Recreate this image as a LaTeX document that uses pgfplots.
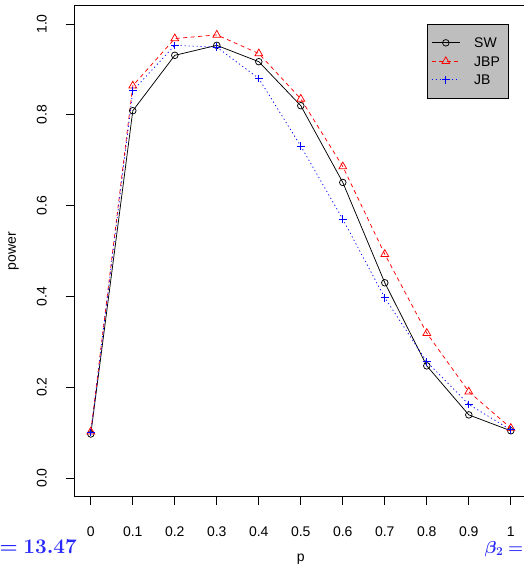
\documentclass[border=0pt]{standalone}
\usepackage[no-math]{fontspec}
\setmainfont{Liberation Sans}
\usepackage{bm}
\usepackage{pgfplots}
\pgfplotsset{compat=1.18}
\definecolor{rgray}{RGB}{190,190,190}
\definecolor{btxt}{RGB}{40,40,250}
\newcommand{\fs}{\fontsize{14}{16.8}\selectfont}
\begin{document}
\begin{tikzpicture}
\begin{axis}[
  at={(74pt,-5.84pt)}, anchor=north west,
  scale only axis, width=453.6pt, height=490.3pt,
  xmin=-0.04, xmax=1.04, ymin=-0.04, ymax=1.04,
  axis line style={black, line width=0.8pt},
  tick style={black, line width=0.8pt},
  tick align=outside, tick pos=left, major tick length=8.5pt,
  xtick={0,0.1,0.2,0.3,0.4,0.5,0.6,0.7,0.8,0.9,1},
  xticklabels={0,0.1,0.2,0.3,0.4,0.5,0.6,0.7,0.8,0.9,1},
  ytick={0,0.2,0.4,0.6,0.8,1},
  yticklabels={0.0,0.2,0.4,0.6,0.8,1.0},
  /pgf/number format/assume math mode=true,
  xticklabel style={font=\fs, anchor=base, inner sep=0pt, yshift=-32pt},
  yticklabel style={font=\fs, inner sep=0pt, xshift=-19pt, rotate=90, anchor=base},
  xlabel={p}, ylabel={power},
  xlabel style={font=\fs, at={(axis description cs:0.5,-0.1335)}, anchor=base, inner sep=0pt},
  ylabel style={font=\fs, at={(axis description cs:-0.1283,0.5)}, anchor=base, inner sep=0pt},
  legend style={at={(rel axis cs:0.7783,0.9626)}, anchor=north west,
    fill=rgray, draw=black, line width=0.8pt, font=\fs,
    inner xsep=4pt, inner ysep=9pt, row sep=0pt, column sep=14pt,
    nodes={inner sep=0pt, text height=14.25pt, text depth=4.25pt, anchor=base west}},
  legend cell align=left,
  legend image code/.code={\draw[mark repeat=2, mark phase=2, #1] plot coordinates {(0pt,5pt) (14pt,5pt) (28pt,5pt)};},
]
\addplot[black, line width=0.75pt, mark=o, mark size=3.3pt, mark options={solid}]
 coordinates {(0,0.097) (0.1,0.809) (0.2,0.931) (0.3,0.953) (0.4,0.917) (0.5,0.820) (0.6,0.651) (0.7,0.430) (0.8,0.247) (0.9,0.139) (1,0.104)};
\addlegendentry{\makebox[30pt][l]{SW}}
\addplot[red, line width=0.75pt, dash pattern=on 4pt off 3.5pt, mark=triangle, mark size=4.5pt, mark options={solid}]
 coordinates {(0,0.102) (0.1,0.864) (0.2,0.968) (0.3,0.976) (0.4,0.935) (0.5,0.835) (0.6,0.686) (0.7,0.493) (0.8,0.319) (0.9,0.190) (1,0.110)};
\addlegendentry{\makebox[30pt][l]{JBP}}
\addplot[blue, line width=0.75pt, dash pattern=on 1.2pt off 2.8pt, mark=+, mark size=3.8pt, mark options={solid}]
 coordinates {(0,0.100) (0.1,0.853) (0.2,0.953) (0.3,0.949) (0.4,0.880) (0.5,0.731) (0.6,0.570) (0.7,0.397) (0.8,0.256) (0.9,0.162) (1,0.106)};
\addlegendentry{\makebox[30pt][l]{JB}}
\end{axis}
\node[anchor=base east, inner sep=0pt, text=btxt, font=\fontsize{19.2}{22}\selectfont] at (77pt,-553.3pt) {$\bm{{}= 13.47}$};
\node[anchor=base east, inner sep=0pt, text=btxt, font=\fontsize{18}{22}\selectfont] at (523.5pt,-553.3pt) {$\bm{\beta_2 =}$};
\pgfresetboundingbox
\path[use as bounding box] (0,0) rectangle (524pt,-568pt);
\end{tikzpicture}
\end{document}
